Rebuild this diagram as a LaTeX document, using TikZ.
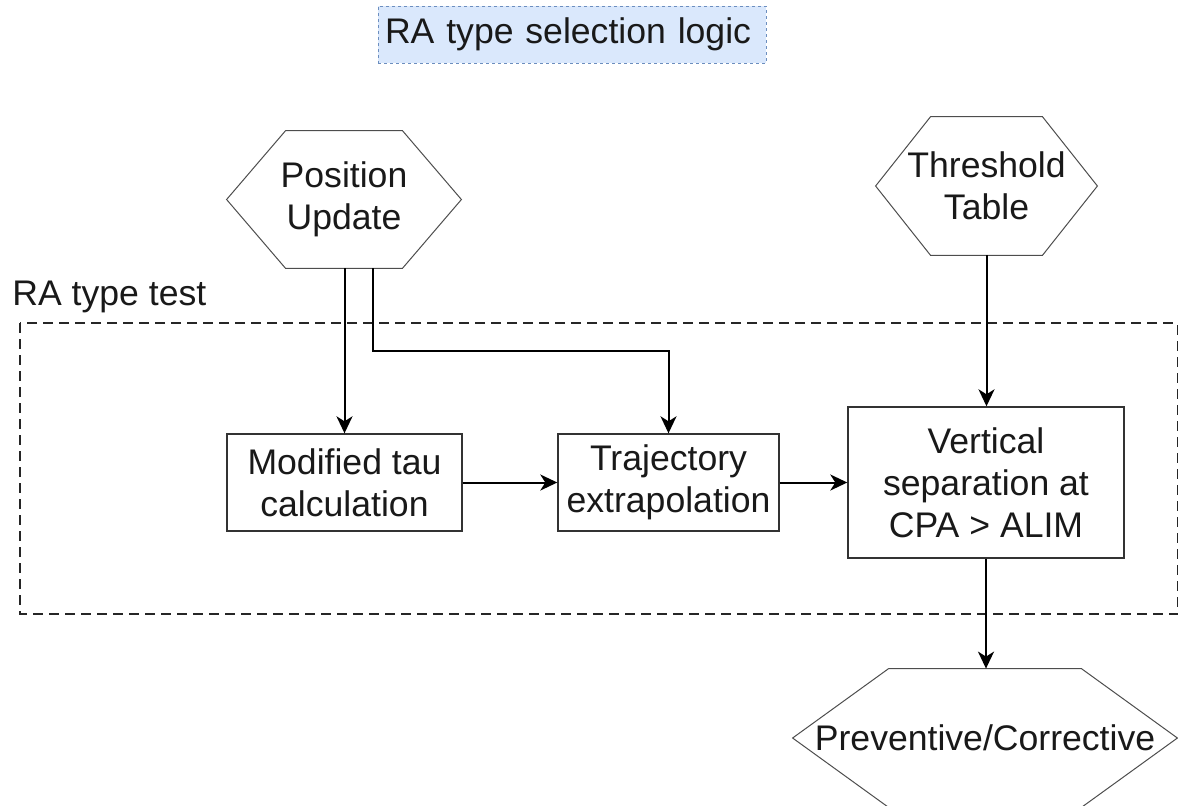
\documentclass[tikz,border=0pt]{standalone}
\usepackage{fontspec}
\setmainfont{Liberation Sans}
\usetikzlibrary{calc,arrows.meta}
\definecolor{titlefill}{HTML}{DAE8FC}
\definecolor{titledraw}{HTML}{6C8EBF}
\definecolor{hexgray}{HTML}{4D4D4D}
\definecolor{boxgray}{HTML}{333333}
\tikzset{
 lbl/.style={font=\fontsize{17.8pt}{21pt}\selectfont, text=black!90, align=center, inner sep=0pt},
 box/.style={lbl, draw=boxgray, line width=0.7pt, fill=white},
 hexa/.style={lbl},
 hexline/.style={draw=hexgray, line width=0.5pt},
 arr/.style={draw=black, line width=1pt, -{Stealth[length=8.5pt,width=8pt,inset=2.5pt]}},
 region/.style={draw=black!85, line width=1pt, dash pattern=on 5pt off 3pt},
 titlebox/.style={lbl, draw=titledraw, fill=titlefill, line width=0.5pt, dash pattern=on 1.5pt off 1.5pt},
}
\newcommand\hexdraw[2]{\draw[hexline] (#1.west) -- ($(#1.north west)+(#2,0)$) -- ($(#1.north east)+(-#2,0)$) -- (#1.east) -- ($(#1.south east)+(-#2,0)$) -- ($(#1.south west)+(#2,0)$) -- cycle;}
\begin{document}
\begin{tikzpicture}[x=0.5pt,y=-0.5pt]
\useasboundingbox (0,0) rectangle (1178,805);
% region
\draw[region] (20,323) rectangle (1177.5,614);
\node[lbl, anchor=base west] (rt) at (12,305) {RA type test};
% title
\node[titlebox, text width=187pt, align=left, inner xsep=3.5pt, minimum height=28.5pt] (title) at (572,34.5) {RA type selection logic};
% hexagons
\node[hexa, minimum width=117pt, minimum height=68.5pt] (pu) at (344,199.5) {Position\\Update};
\hexdraw{pu}{59}
\node[hexa, minimum width=110.5pt, minimum height=69pt] (tt) at (986.5,186) {Threshold\\Table};
\hexdraw{tt}{55}
\node[hexa, minimum width=192pt, minimum height=69pt] (pc) at (985,738) {Preventive/Corrective};
\hexdraw{pc}{96}
% boxes
\node[box, minimum width=117.5pt, minimum height=48.5pt] (mt) at (344.5,482.5) {Modified tau\\calculation};
\node[box, minimum width=110.5pt, minimum height=48.5pt] (tr) at (668.5,482.5) {Trajectory\\extrapolation};
\node[box, minimum width=138pt, minimum height=75.5pt] (vs) at (986,482.5) {Vertical\\separation at\\CPA > ALIM};
% connectors
\draw[arr] (pu.south -| mt.north) -- (mt.north);
\draw[arr] ($(pu.south)+(29,0)$) -- ++(0,83) -| (tr.north);
\draw[arr] (mt.east) -- (tr.west);
\draw[arr] (tr.east) -- (vs.west);
\draw[arr] (tt.south) -- (tt.south |- vs.north);
\draw[arr] (vs.south) -- (vs.south |- pc.north);
\end{tikzpicture}
\end{document}
